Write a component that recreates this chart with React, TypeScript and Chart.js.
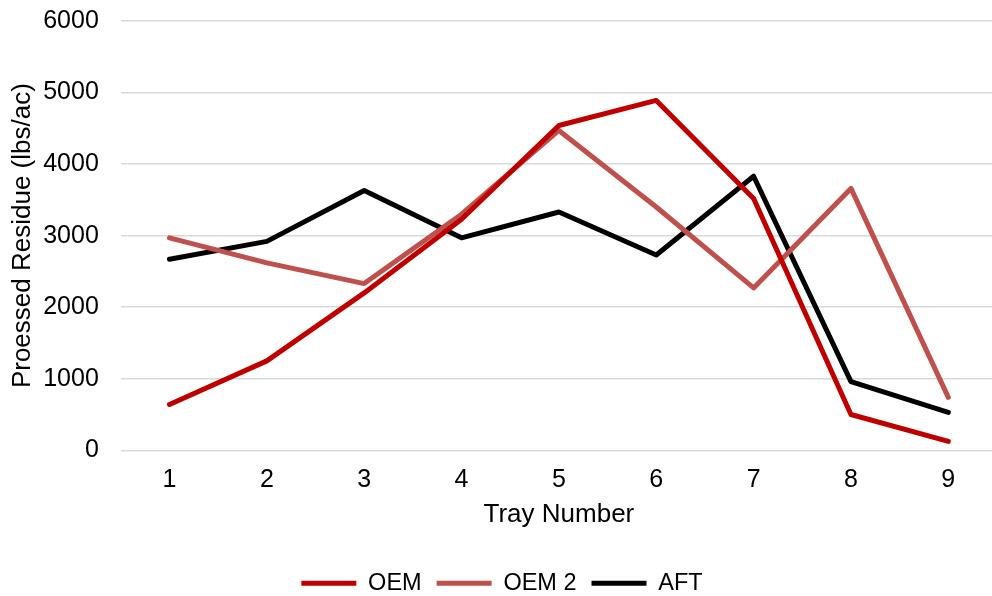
import React, { useEffect, useRef } from "react";
import { Chart, registerables } from "chart.js";

Chart.register(...registerables);

const categories = ["1", "2", "3", "4", "5", "6", "7", "8", "9"];
const oem = [640, 1250, 2200, 3230, 4540, 4890, 3520, 500, 125];
const oem2 = [2970, 2620, 2330, 3300, 4470, 3400, 2270, 3660, 740];
const aft = [2670, 2920, 3630, 2970, 3330, 2730, 3830, 960, 530];
const seriesNames = ["OEM", "OEM 2", "AFT"];
const seriesColors = ["#C00000", "#C0504D", "#000000"];
const yTitle = "Proessed Residue (lbs/ac)";
const xTitle = "Tray Number";

export default function App() {
  const ref = useRef<HTMLCanvasElement | null>(null);
  useEffect(() => {
    if (!ref.current) return;
    const family = "'Liberation Sans', Arial, sans-serif";
    const tickFont = { family, size: 25 };
    const titleFont = { family, size: 26 };
    const legendFont = { family, size: 23.5 };
    const data = [oem, oem2, aft];
    const chart = new Chart(ref.current, {
      type: "line",
      data: {
        labels: categories,
        datasets: data.map((d, i) => ({
          label: seriesNames[i],
          data: d,
          borderColor: seriesColors[i],
          backgroundColor: seriesColors[i],
          borderWidth: 5,
          pointRadius: 0,
          tension: 0,
          borderCapStyle: "round" as const,
          borderJoinStyle: "round" as const,
        })),
      },
      options: {
        animation: false,
        responsive: false,
        maintainAspectRatio: false,
        layout: { padding: { top: 0, right: 0, left: 7, bottom: 0 } },
        scales: {
          x: {
            offset: true,
            grid: { display: false, drawTicks: false },
            border: { display: false },
            ticks: { color: "#000", font: tickFont, padding: 15 },
            title: { display: true, text: xTitle, color: "#000", font: titleFont, padding: { top: 5, bottom: 26 } },
            afterFit: (s: any) => { s.height -= 16; },
          },
          y: {
            min: 0,
            max: 6000,
            grid: { color: "#d9d9d9", lineWidth: 1.5, drawTicks: false },
            border: { display: false },
            ticks: { stepSize: 1000, color: "#000", font: tickFont, padding: 22, callback: (v: any) => String(v) },
            title: { display: true, text: yTitle, color: "#000", font: titleFont, padding: { top: 0, bottom: 0 } },
            afterFit: (s: any) => { s.width -= 17; },
          },
        },
        plugins: {
          tooltip: { enabled: false },
          legend: {
            position: "bottom",
            labels: {
              color: "#000",
              font: legendFont,
              boxWidth: 55,
              boxHeight: 5,
              padding: 15,
              generateLabels: (c: any) => {
                const items = Chart.defaults.plugins.legend.labels.generateLabels(c);
                return items.map((it: any) => ({ ...it, lineWidth: 0, fillStyle: it.strokeStyle }));
              },
            },
          },
        },
      },
    });
    return () => chart.destroy();
  }, []);
  return (
    <div style={{ position: "absolute", left: 0, top: 0, width: 992, height: 596, overflow: "hidden" }}>
      <canvas ref={ref} width={997} height={621} style={{ display: "block", position: "absolute", left: 0, top: -16 }} />
    </div>
  );
}
